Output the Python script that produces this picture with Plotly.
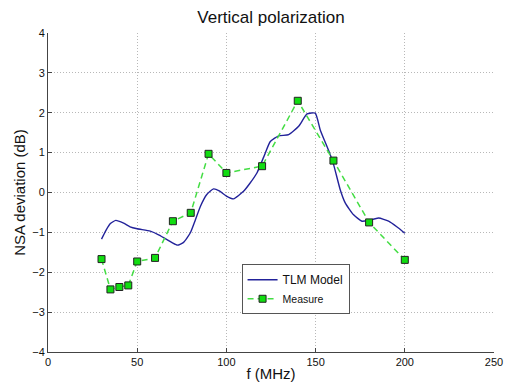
import plotly.graph_objects as go

# TLM model curve
tlm_f = [30, 32.5, 35, 38, 42.4, 46, 50, 57.3, 62, 66.7, 70, 72.6, 76, 79.8, 82.5, 85.4, 89, 92.8, 96, 100, 104, 109.6, 113, 117.1, 121, 124.6, 129.3, 134.9, 140.5, 145.2, 149.8, 152.6, 155.5, 158.2, 160.1, 163.8, 166.6, 171.3, 176, 179.7, 185.3, 190.9, 195.5, 200]
tlm_v = [-1.17, -0.95, -0.78, -0.70, -0.77, -0.86, -0.91, -0.97, -1.06, -1.18, -1.27, -1.32, -1.25, -1.01, -0.70, -0.35, -0.05, 0.09, 0.04, -0.09, -0.16, 0.03, 0.22, 0.49, 0.90, 1.28, 1.42, 1.45, 1.66, 1.97, 1.99, 1.57, 1.25, 0.95, 0.70, 0.07, -0.26, -0.56, -0.72, -0.70, -0.64, -0.72, -0.86, -1.02]

# Measurements
meas_f = [30, 35, 40, 45, 50, 60, 70, 80, 90, 100, 120, 140, 160, 180, 200]
meas_v = [-1.67, -2.43, -2.37, -2.33, -1.73, -1.64, -0.72, -0.51, 0.97, 0.49, 0.66, 2.30, 0.80, -0.75, -1.69]

x_ticks = [0, 50, 100, 150, 200, 250]
y_ticks = [-4, -3, -2, -1, 0, 1, 2, 3, 4]

fig = go.Figure()
fig.add_trace(go.Scatter(x=tlm_f, y=tlm_v, mode="lines", name="TLM Model",
                         line=dict(color="#22229a", width=1.4, shape="spline", smoothing=0.5)))
fig.add_trace(go.Scatter(x=meas_f, y=meas_v, mode="lines+markers",
                         name="<span style='font-size:10.5px'>Measure</span>",
                         line=dict(color="#44dd44", width=1.5, dash="6px,4px"),
                         marker=dict(symbol="square", size=7, color="#11dd11",
                                     line=dict(color="#222222", width=1))))

font = "Liberation Sans, Arial, sans-serif"
fig.update_layout(
    width=507, height=382,
    margin=dict(l=48, r=13, t=33, b=30),
    paper_bgcolor="white", plot_bgcolor="white",
    font=dict(family=font, color="#111111"),
    title=dict(text="Vertical polarization", x=(48 + 223) / 507, xanchor="center",
               y=1 - 17 / 382, yanchor="middle", font=dict(size=17, family=font, color="#111111")),
    showlegend=True,
    legend=dict(x=0.434, y=0.275, xanchor="left", yanchor="top",
                bgcolor="white", bordercolor="#555555", borderwidth=1,
                font=dict(size=12, family=font, color="#111111"),
                tracegroupgap=0, itemwidth=30),
)
fig.update_xaxes(range=[0, 250], tickvals=x_ticks, ticks="inside", ticklen=4,
                 tickcolor="#444444", showline=True, linecolor="#444444", linewidth=1,
                 showgrid=True, gridcolor="#b8b8b8", griddash="1px,2px", gridwidth=1,
                 zeroline=False, tickfont=dict(size=11, family=font), automargin=False,
                 title=dict(text="f (MHz)", font=dict(size=15, family=font), standoff=1))
fig.update_yaxes(range=[-4, 4], tickvals=y_ticks, ticks="inside", ticklen=4,
                 tickcolor="#444444", showline=True, linecolor="#444444", linewidth=1,
                 showgrid=True, gridcolor="#b8b8b8", griddash="1px,2px", gridwidth=1,
                 zeroline=False, tickfont=dict(size=11, family=font), automargin=False,
                 title=dict(text="NSA deviation (dB)", font=dict(size=15, family=font), standoff=3))

fig.write_html("out.html")
